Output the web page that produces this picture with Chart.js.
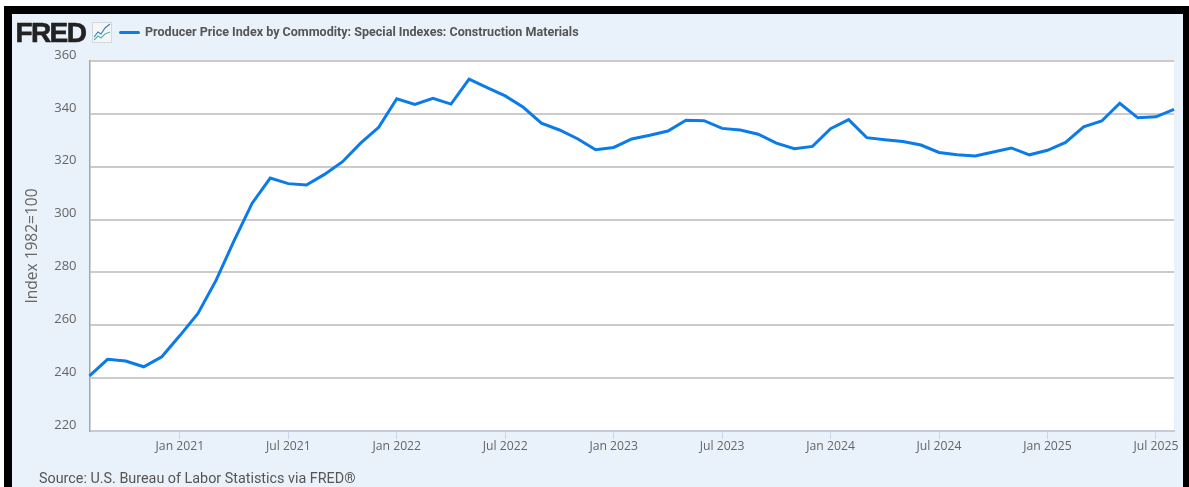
<!DOCTYPE html>
<html>
<head>
<meta charset="utf-8">
<title>Producer Price Index by Commodity: Special Indexes: Construction Materials</title>
<script src="https://cdn.jsdelivr.net/npm/chart.js@4"></script>
<style>
  html, body { margin: 0; padding: 0; background: #fff; overflow: hidden; }
  #frame { position: absolute; left: 4px; top: 6px; border: solid #000; border-width: 8px 6px 0 8px; width: 1171px; height: 473px; background: #e9f1fa; }
  #grafico { position: absolute; left: 0; top: 0; }
  .logo { position: absolute; left: 15.5px; top: 17px; font: bold 28px "Liberation Sans", sans-serif; letter-spacing: -1.6px; color: #222; -webkit-text-stroke: 0.6px #222; }
  .icone { position: absolute; left: 92px; top: 22px; }
  .legenda-linha { position: absolute; left: 119px; top: 30.5px; width: 21px; height: 3px; background: #0a7be8; border-radius: 2px; }
  .legenda { position: absolute; left: 145px; top: 24px; font: bold 13px Roboto, sans-serif; color: #555; white-space: nowrap; transform: scaleX(0.965); transform-origin: left center; }
  .fonte { position: absolute; left: 39px; top: 470px; font: 14.35px Roboto, sans-serif; color: #555; white-space: nowrap; }
</style>
</head>
<body>
<div id="frame"></div>
<canvas id="grafico" width="1189" height="487"></canvas>
<div class="logo">FRED</div>
<svg class="icone" width="20" height="21" viewBox="0 0 20 21">
  <rect x="0.5" y="0.5" width="19" height="20" fill="#f4f6f8" stroke="#d5d9dd"/>
  <polyline points="2,15 6,10 9,12 13,6 18,2" fill="none" stroke="#3b82c4" stroke-width="1.2"/>
  <polyline points="2,18 6,14 9,16 13,12 18,10" fill="none" stroke="#5fb89a" stroke-width="1.2"/>
</svg>
<div class="legenda-linha"></div>
<div class="legenda">Producer Price Index by Commodity: Special Indexes: Construction Materials</div>
<div class="fonte">Source: U.S. Bureau of Labor Statistics via FRED®</div>

<script>
const meses = [
  'Aug 2020', 'Sep 2020', 'Oct 2020', 'Nov 2020', 'Dec 2020',
  'Jan 2021', 'Feb 2021', 'Mar 2021', 'Apr 2021', 'May 2021', 'Jun 2021', 'Jul 2021', 'Aug 2021', 'Sep 2021', 'Oct 2021', 'Nov 2021', 'Dec 2021',
  'Jan 2022', 'Feb 2022', 'Mar 2022', 'Apr 2022', 'May 2022', 'Jun 2022', 'Jul 2022', 'Aug 2022', 'Sep 2022', 'Oct 2022', 'Nov 2022', 'Dec 2022',
  'Jan 2023', 'Feb 2023', 'Mar 2023', 'Apr 2023', 'May 2023', 'Jun 2023', 'Jul 2023', 'Aug 2023', 'Sep 2023', 'Oct 2023', 'Nov 2023', 'Dec 2023',
  'Jan 2024', 'Feb 2024', 'Mar 2024', 'Apr 2024', 'May 2024', 'Jun 2024', 'Jul 2024', 'Aug 2024', 'Sep 2024', 'Oct 2024', 'Nov 2024', 'Dec 2024',
  'Jan 2025', 'Feb 2025', 'Mar 2025', 'Apr 2025', 'May 2025', 'Jun 2025', 'Jul 2025', 'Aug 2025'
];

const indice = [
  240.9, 247.1, 246.5, 244.3, 248.1,
  256.1, 264.5, 277.0, 292.0, 306.2, 315.7, 313.6, 313.1, 317.1, 321.9, 328.9, 334.9,
  345.7, 343.6, 345.9, 343.7, 353.1, 349.9, 346.8, 342.5, 336.5, 333.9, 330.6, 326.4,
  327.3, 330.5, 331.9, 333.5, 337.6, 337.4, 334.5, 333.9, 332.3, 328.9, 326.8, 327.7,
  334.4, 337.8, 331.0, 330.2, 329.5, 328.2, 325.4, 324.5, 324.1, 325.6, 327.1, 324.5,
  326.2, 329.2, 335.1, 337.3, 344.0, 338.5, 338.9, 341.7
];

const rotulosX = [
  'Jan 2021', 'Jul 2021', 'Jan 2022', 'Jul 2022', 'Jan 2023',
  'Jul 2023', 'Jan 2024', 'Jul 2024', 'Jan 2025', 'Jul 2025'
];

const fundoBranco = {
  id: 'fundoBranco',
  beforeDraw(chart) {
    const { ctx, chartArea: a } = chart;
    ctx.save();
    ctx.fillStyle = '#fff';
    ctx.fillRect(a.left, a.top, a.right - a.left, a.bottom - a.top);
    ctx.restore();
  }
};

new Chart(document.getElementById('grafico').getContext('2d'), {
  type: 'line',
  data: {
    labels: meses,
    datasets: [{
      label: 'Producer Price Index by Commodity: Special Indexes: Construction Materials',
      data: indice,
      borderColor: '#0a7be8',
      borderWidth: 3,
      pointRadius: 0,
      tension: 0
    }]
  },
  options: {
    responsive: false,
    animation: false,
    layout: { padding: { left: 23, top: 61, right: 15, bottom: 0 } },
    plugins: { legend: { display: false }, tooltip: { enabled: false } },
    scales: {
      x: {
        type: 'category',
        offset: false,
        afterBuildTicks: scale => {
          // so janeiro e julho ganham marca e rotulo
          scale.ticks = scale.ticks.filter(t => rotulosX.includes(meses[t.value]));
        },
        afterFit: scale => { scale.height = 56; },
        grid: { drawOnChartArea: false, drawTicks: true, tickLength: 8, tickColor: '#ccd6eb', tickWidth: 1 },
        border: { color: '#c6ccd6', width: 2 },
        ticks: {
          autoSkip: false,
          maxRotation: 0,
          minRotation: 0,
          padding: 0,
          color: '#666',
          font: { family: '"Open Sans"', size: 12.2 },
          callback: function (v) { return this.getLabelForValue(v); }
        }
      },
      y: {
        min: 220,
        max: 360,
        afterFit: scale => { scale.width = 66.5; },
        grid: {
          color: c => (c.tick.value === 220 ? 'rgba(0,0,0,0)' : '#cbcbcb'),
          lineWidth: 2,
          drawTicks: false
        },
        border: { color: '#a6a6a6', width: 1.5 },
        title: {
          display: true,
          text: 'Index 1982=100',
          color: '#666',
          font: { family: '"Open Sans"', size: 15.5 },
          padding: 0
        },
        ticks: {
          stepSize: 20,
          padding: 13,
          autoSkip: false,
          color: '#666',
          font: { family: '"Open Sans"', size: 13, lineHeight: '12px' },
          // linha vazia sobe o numero para cima da grade
          callback: v => [String(v), '']
        }
      }
    }
  },
  plugins: [fundoBranco]
});
</script>
</body>
</html>
